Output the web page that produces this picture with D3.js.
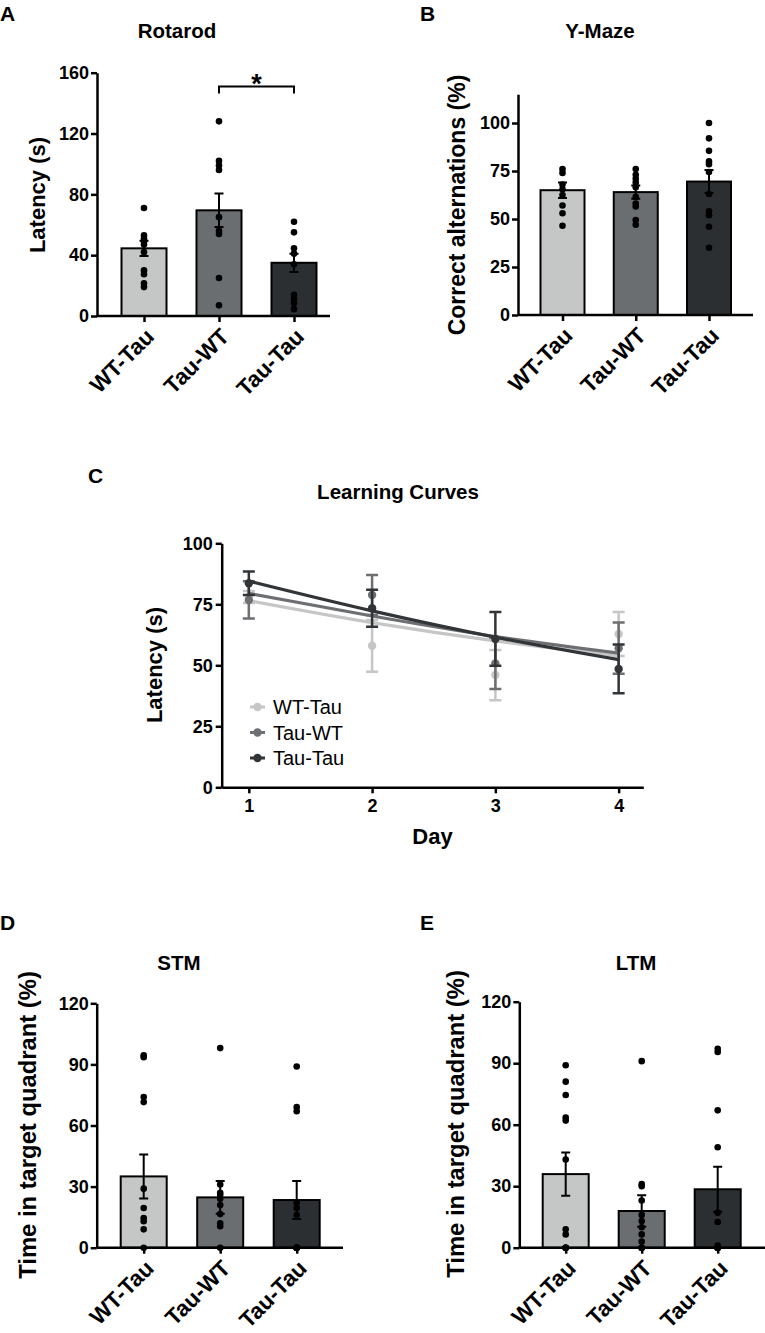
<!DOCTYPE html>
<html>
<head>
<meta charset="utf-8">
<script src="https://cdn.jsdelivr.net/npm/d3@7/dist/d3.min.js"></script>
<style>
  html, body { margin: 0; padding: 0; background: #fff; }
  svg text { font-family: "Liberation Sans", Arial, Helvetica, sans-serif; fill: #000; }
</style>
</head>
<body>
<div id="chart"></div>
<script>
// ---- data ----
const groups = ['WT-Tau', 'Tau-WT', 'Tau-Tau'];

// A: Rotarod latency (s)
const rotarodMean = [44.5, 69.5, 35];
const rotarodSem = [5, 11, 6];
const rotarodPoints = [
  [71, 53, 51, 49, 47, 42, 30, 27.5, 21.5, 19],
  [128, 102, 99, 96, 65, 56, 54, 25, 7],
  [62, 55, 44.5, 41, 34, 14, 11, 8.5, 4.5]
];
const rotarodTicks = [0, 40, 80, 120, 160];

// B: Y-Maze correct alternations (%)
const ymazeMean = [65, 64, 69.5];
const ymazeSem = [4, 3.5, 6];
const ymazePoints = [
  [76, 74, 68, 65.5, 62.5, 57, 53, 46.5],
  [76, 73, 71, 69, 66.5, 61.5, 58, 56.5, 49.5, 47],
  [100, 92, 85.5, 80, 78.5, 74.5, 63, 54, 52, 46, 35]
];
const ymazeTicks = [0, 25, 50, 75, 100];

// C: learning curves, latency (s) per day
const days = [1, 2, 3, 4];
const curveMean = [
  [78, 58, 46, 62.8],
  [76.8, 78.8, 50.8, 57],
  [83.6, 73.4, 60.8, 48.5]
];
const curveSem = [
  [2.5, 10.6, 10.3, 9],
  [7.6, 8.2, 10.5, 10.5],
  [4.8, 7.6, 11, 10]
];
const curveFit = [
  [76.5, 67.5, 60, 54],
  [79.5, 70.2, 61.8, 55],
  [84.5, 72.3, 61.5, 52.3]
];
const curveTicks = [0, 25, 50, 75, 100];

// D: STM time in target quadrant (%)
const stmMean = [35, 24.7, 23.4];
const stmSem = [10.8, 8, 9.3];
const stmPoints = [
  [94.5, 93.5, 74, 71.5, 29, 19.5, 14.5, 13, 9, 0],
  [98, 31, 27, 26, 24, 21, 16.5, 12, 10.5, 0],
  [89, 69, 67, 22, 19.5, 16, 0, 0, 0, 0, 0, 0]
];

// E: LTM time in target quadrant (%)
const ltmMean = [35.9, 17.9, 28.5];
const ltmSem = [10.5, 7.7, 11];
const ltmPoints = [
  [89, 81, 74.5, 63.5, 62, 43, 9, 6.5, 0, 0, 0, 0],
  [91, 31, 30, 23, 16, 13, 10, 6.5, 3, 0, 0, 0],
  [97, 95.5, 67, 49, 17, 12.5, 1, 0, 0, 0, 0, 0]
];
const mwmTicks = [0, 30, 60, 90, 120];

// ---- drawing ----
const barFill = { 'WT-Tau': '#c5c7c6', 'Tau-WT': '#6b6e71', 'Tau-Tau': '#2c2f31' };
const lineColor = { 'WT-Tau': '#c6c6c6', 'Tau-WT': '#6d6f72', 'Tau-Tau': '#323538' };

const svg = d3.select('#chart').append('svg')
  .attr('width', 765)
  .attr('height', 1333)
  .style('background', '#fff');

function letter(txt, x, y) {
  svg.append('text').attr('x', x).attr('y', y)
    .attr('font-size', '21px').attr('font-weight', 'bold').text(txt);
}

function title(txt, x, y) {
  svg.append('text').attr('x', x).attr('y', y)
    .attr('text-anchor', 'middle')
    .attr('font-size', '20.5px').attr('font-weight', 'bold')
    .text(txt);
}

function yLabel(txt, x, y, size) {
  svg.append('text')
    .attr('transform', `translate(${x},${y}) rotate(-90)`)
    .attr('text-anchor', 'middle')
    .attr('dy', '0.35em')
    .attr('font-size', size + 'px')
    .attr('font-weight', 'bold')
    .text(txt);
}

function styleAxis(g) {
  g.select('.domain').attr('stroke', '#000').attr('stroke-width', 2.5);
  g.selectAll('.tick line').attr('stroke', '#000').attr('stroke-width', 2.5);
  g.selectAll('.tick text').attr('font-size', '18px').attr('font-weight', 'bold')
    .attr('font-family', '"Liberation Sans", Arial, sans-serif').attr('fill', '#000');
}

function barPanel(c) {
  const y = d3.scaleLinear().domain([0, c.yMax]).range([c.y0, c.yTop]);
  const x = d3.scalePoint().domain(groups).range(c.xRange);
  const g = svg.append('g');

  letter(c.letter, c.letterPos[0], c.letterPos[1]);
  title(c.title, c.titlePos[0], c.titlePos[1]);
  yLabel(c.yLabel, c.yLabelPos[0], c.yLabelPos[1], c.yLabelSize);

  // bars
  g.selectAll('.bar')
    .data(groups)
    .enter()
    .append('rect')
    .attr('x', d => x(d) - c.barW / 2)
    .attr('y', (d, i) => y(c.mean[i]))
    .attr('width', c.barW)
    .attr('height', (d, i) => y(0) - y(c.mean[i]))
    .attr('fill', d => barFill[d])
    .attr('stroke', '#000')
    .attr('stroke-width', 2);

  // SEM bars
  const cap = 4.5;
  groups.forEach((grp, i) => {
    const cx = x(grp);
    const lo = y(c.mean[i] - c.sem[i]);
    const hi = y(c.mean[i] + c.sem[i]);
    g.append('path')
      .attr('d', `M${cx},${lo}V${hi}M${cx - cap},${hi}H${cx + cap}M${cx - cap},${lo}H${cx + cap}`)
      .attr('stroke', '#000').attr('stroke-width', 2).attr('fill', 'none');
  });

  // individual animals
  groups.forEach((grp, i) => {
    g.selectAll(null)
      .data(c.points[i])
      .enter()
      .append('circle')
      .attr('cx', x(grp))
      .attr('cy', d => y(d))
      .attr('r', 3.3)
      .attr('fill', '#000');
  });

  // y axis
  const ya = g.append('g')
    .attr('transform', `translate(${c.axisX},0)`)
    .call(d3.axisLeft(y).tickValues(c.ticks).tickSize(6).tickSizeOuter(0).tickPadding(2));
  styleAxis(ya);

  // x axis
  const xa = g.append('g')
    .attr('transform', `translate(0,${y(0)})`)
    .call(d3.axisBottom(x).tickSize(6).tickSizeOuter(0));
  xa.select('.domain').remove();
  xa.append('line')
    .attr('x1', c.axisX).attr('x2', c.axisEnd)
    .attr('stroke', '#000').attr('stroke-width', 2.5);
  styleAxis(xa);
  xa.selectAll('.tick text')
    .attr('x', 0).attr('y', 0).attr('dy', 0)
    .attr('text-anchor', 'end')
    .attr('font-size', '22.5px')
    .attr('transform', 'translate(11,22) rotate(-45)');

  if (c.sig) {
    const x1 = x(c.sig.from), x2 = x(c.sig.to), yy = y(c.sig.at);
    g.append('path')
      .attr('d', `M${x1},${yy + 7}V${yy}H${x2}V${yy + 7}`)
      .attr('stroke', '#000').attr('stroke-width', 2).attr('fill', 'none');
    g.append('text')
      .attr('x', (x1 + x2) / 2).attr('y', yy + 7)
      .attr('text-anchor', 'middle')
      .attr('font-size', '27px').attr('font-weight', 'bold')
      .text(c.sig.label);
  }
}

barPanel({
  letter: 'A', letterPos: [0, 21],
  title: 'Rotarod', titlePos: [177, 38],
  yLabel: 'Latency (s)', yLabelPos: [37, 195], yLabelSize: 22,
  yMax: 160, y0: 316, yTop: 72.7, ticks: rotarodTicks,
  xRange: [144, 294], barW: 45, axisX: 97, axisEnd: 330,
  mean: rotarodMean, sem: rotarodSem, points: rotarodPoints,
  sig: { from: 'Tau-WT', to: 'Tau-Tau', at: 151, label: '*' }
});

barPanel({
  letter: 'B', letterPos: [420, 21],
  title: 'Y-Maze', titlePos: [600, 38],
  yLabel: 'Correct alternations (%)', yLabelPos: [457, 205], yLabelSize: 23,
  yMax: 115, y0: 315, yTop: 94.2, ticks: ymazeTicks,
  xRange: [562.5, 709], barW: 44, axisX: 518, axisEnd: 753,
  mean: ymazeMean, sem: ymazeSem, points: ymazePoints
});

barPanel({
  letter: 'D', letterPos: [0, 930],
  title: 'STM', titlePos: [179, 970],
  yLabel: 'Time in target quadrant (%)', yLabelPos: [28, 1125], yLabelSize: 23.8,
  yMax: 120, y0: 1247.7, yTop: 1003.3, ticks: mwmTicks,
  xRange: [143.7, 296.7], barW: 46, axisX: 96.7, axisEnd: 343,
  mean: stmMean, sem: stmSem, points: stmPoints
});

barPanel({
  letter: 'E', letterPos: [420, 930],
  title: 'LTM', titlePos: [636, 970],
  yLabel: 'Time in target quadrant (%)', yLabelPos: [456, 1124], yLabelSize: 23.8,
  yMax: 120, y0: 1247.7, yTop: 1001.7, ticks: mwmTicks,
  xRange: [565.7, 717.7], barW: 46, axisX: 519.3, axisEnd: 765,
  mean: ltmMean, sem: ltmSem, points: ltmPoints
});

// ---- C: learning curves ----
(function learningCurves() {
  const x = d3.scaleLinear().domain([0.78, 4.2]).range([221.7, 643.3]);
  const y = d3.scaleLinear().domain([0, 100]).range([787.3, 543.3]);
  const g = svg.append('g');

  letter('C', 88, 483);
  title('Learning Curves', 398, 499);
  yLabel('Latency (s)', 154, 665, 22);
  svg.append('text').attr('x', 432.5).attr('y', 844)
    .attr('text-anchor', 'middle').attr('font-size', '22px').attr('font-weight', 'bold')
    .text('Day');

  const line = d3.line()
    .x((d, i) => x(days[i]))
    .y(d => y(d))
    .curve(d3.curveMonotoneX);

  const cap = 6;
  groups.forEach((grp, gi) => {
    const col = lineColor[grp];
    days.forEach((day, i) => {
      const cx = x(day);
      const lo = y(curveMean[gi][i] - curveSem[gi][i]);
      const hi = y(curveMean[gi][i] + curveSem[gi][i]);
      g.append('path')
        .attr('d', `M${cx},${lo}V${hi}M${cx - cap},${hi}H${cx + cap}M${cx - cap},${lo}H${cx + cap}`)
        .attr('stroke', col).attr('stroke-width', 2.5).attr('fill', 'none');
    });
    g.selectAll(null)
      .data(curveMean[gi])
      .enter()
      .append('circle')
      .attr('cx', (d, i) => x(days[i]))
      .attr('cy', d => y(d))
      .attr('r', 4.2)
      .attr('fill', col);
    g.append('path')
      .datum(curveFit[gi])
      .attr('d', line)
      .attr('fill', 'none')
      .attr('stroke', col)
      .attr('stroke-width', 3.2);
  });

  const ya = g.append('g')
    .attr('transform', 'translate(221.7,0)')
    .call(d3.axisLeft(y).tickValues(curveTicks).tickSize(6).tickSizeOuter(0).tickPadding(3));
  styleAxis(ya);

  const xa = g.append('g')
    .attr('transform', `translate(0,${y(0)})`)
    .call(d3.axisBottom(x).tickValues(days).tickFormat(d3.format('d')).tickSize(6).tickSizeOuter(0).tickPadding(6));
  styleAxis(xa);

  // legend
  const legend = g.append('g');
  groups.forEach((grp, i) => {
    const ly = 707 + i * 25.5;
    legend.append('line')
      .attr('x1', 250).attr('x2', 265).attr('y1', ly).attr('y2', ly)
      .attr('stroke', lineColor[grp]).attr('stroke-width', 3);
    legend.append('circle')
      .attr('cx', 257.5).attr('cy', ly).attr('r', 4.2)
      .attr('fill', lineColor[grp]);
    legend.append('text')
      .attr('x', 273).attr('y', ly).attr('dy', '0.35em')
      .attr('font-size', '20px')
      .text(grp);
  });
})();
</script>
</body>
</html>
